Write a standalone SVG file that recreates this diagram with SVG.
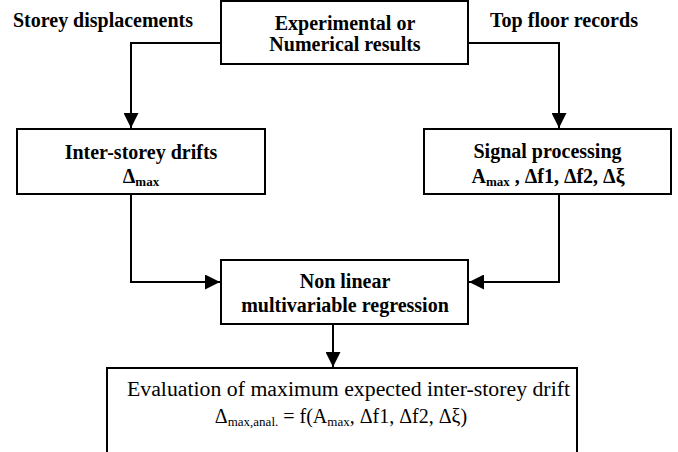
<svg xmlns="http://www.w3.org/2000/svg" width="678" height="452" viewBox="0 0 678 452">
<style>
.box{fill:#fff;stroke:#000;stroke-width:2}
.b{font-weight:bold;font-size:20px;fill:#000}
.r{font-size:20px;fill:#000}
.c{text-anchor:middle}
.conn{fill:none;stroke:#000;stroke-width:2}
.sub{font-size:13px}
</style>
<defs>
<marker id="ah" markerUnits="userSpaceOnUse" markerWidth="15" markerHeight="15" refX="15" refY="7.5" orient="auto">
<path d="M0,0 L15,7.5 L0,15 z" fill="#000"/>
</marker>
</defs>
<rect width="678" height="452" fill="#fff"/>
<g id="connectors">
<path class="conn" d="M221,43 H131 V128" marker-end="url(#ah)"/>
<path class="conn" d="M468,43 H559 V128" marker-end="url(#ah)"/>
<path class="conn" d="M131,194 V282 H220" marker-end="url(#ah)"/>
<path class="conn" d="M559,194 V282 H469" marker-end="url(#ah)"/>
<path class="conn" d="M333,324 V367" marker-end="url(#ah)"/>
</g>
<g font-family="Liberation Serif, DejaVu Serif, serif">
<g id="label-storey">
<text class="b" x="13" y="27" textLength="180" lengthAdjust="spacingAndGlyphs">Storey displacements</text>
</g>
<g id="label-top">
<text class="b" x="490" y="27" textLength="148" lengthAdjust="spacingAndGlyphs">Top floor records</text>
</g>
<g id="node-results">
<rect class="box" x="221" y="1" width="247" height="63"/>
<text class="b c" x="345" y="30">Experimental or</text>
<text class="b c" x="345" y="51">Numerical results</text>
</g>
<g id="node-drifts">
<rect class="box" x="17" y="129" width="248" height="65"/>
<text class="b c" x="141" y="159">Inter-storey drifts</text>
<text class="b c" x="141" y="183">Δ<tspan class="sub" dy="3">max</tspan></text>
</g>
<g id="node-signal">
<rect class="box" x="424" y="129" width="247" height="65"/>
<text class="b c" x="547.5" y="158">Signal processing</text>
<text class="b c" x="548" y="183">A<tspan class="sub" dy="3">max</tspan><tspan dy="-3"> , Δf1, Δf2, Δξ</tspan></text>
</g>
<g id="node-regression">
<rect class="box" x="221" y="260" width="247" height="64"/>
<text class="b c" x="345" y="288">Non linear</text>
<text class="b c" x="345" y="312">multivariable regression</text>
</g>
<g id="node-evaluation">
<rect class="box" x="107" y="368" width="470" height="100"/>
<text class="r" x="127" y="396" textLength="443" lengthAdjust="spacingAndGlyphs">Evaluation of maximum expected inter-storey drift</text>
<text class="r c" x="341" y="423">Δ<tspan class="sub" dy="3">max,anal.</tspan><tspan dy="-3"> = f(A</tspan><tspan class="sub" dy="3">max</tspan><tspan dy="-3">, Δf1, Δf2, Δξ)</tspan></text>
</g>
</g>
</svg>
